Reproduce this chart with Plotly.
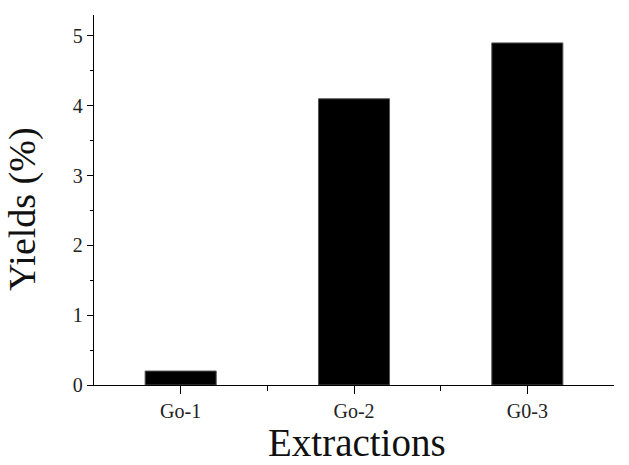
import plotly.graph_objects as go

categories = ["Go-1", "Go-2", "G0-3"]
yields = [0.2, 4.1, 4.9]
positions = [0, 1, 2]

fig = go.Figure()
fig.add_trace(go.Bar(
    x=positions, y=yields, width=0.41,
    marker=dict(color="black", line=dict(color="#555", width=1)),
    showlegend=False,
))

W, H = 629, 465
L, R, T, B = 94, 15, 15, 80
pw, ph = W - L - R, H - T - B

fig.update_layout(
    width=W, height=H,
    margin=dict(l=L, r=R, t=T, b=B),
    paper_bgcolor="white", plot_bgcolor="white",
    font=dict(family="Liberation Serif", color="#222", size=20),
    xaxis=dict(
        range=[-0.5, 2.5], tickvals=positions, ticktext=categories,
        showline=True, linecolor="black", linewidth=1.3,
        ticks="outside", ticklen=8, tickwidth=1.2, tickcolor="black",
        minor=dict(tickvals=[0.5, 1.5], ticks="outside", ticklen=5, tickwidth=1.2, tickcolor="black"),
        showgrid=False, zeroline=False,
        tickfont=dict(size=20, family="Liberation Serif", color="#222"),
    ),
    yaxis=dict(
        range=[0, 5.3], tickvals=[0, 1, 2, 3, 4, 5],
        showline=True, linecolor="black", linewidth=1.3,
        ticks="outside", ticklen=6, tickwidth=1.2, tickcolor="black",
        minor=dict(dtick=0.5, tick0=0, ticks="outside", ticklen=3, tickwidth=1.2, tickcolor="black"),
        showgrid=False, zeroline=False,
        tickfont=dict(size=20, family="Liberation Serif", color="#222"),
    ),
    annotations=[
        dict(text="Yields (%)", textangle=-90, xref="paper", yref="paper",
             x=(22 - L) / pw, y=(H - B - 209) / ph, xanchor="center", yanchor="middle",
             showarrow=False, font=dict(size=38, family="Liberation Serif", color="#111")),
        dict(text="Extractions", xref="paper", yref="paper",
             x=(357 - L) / pw, y=(H - B - 442) / ph, xanchor="center", yanchor="middle",
             showarrow=False, font=dict(size=39, family="Liberation Serif", color="#111")),
    ],
)

fig.write_html("out.html")
